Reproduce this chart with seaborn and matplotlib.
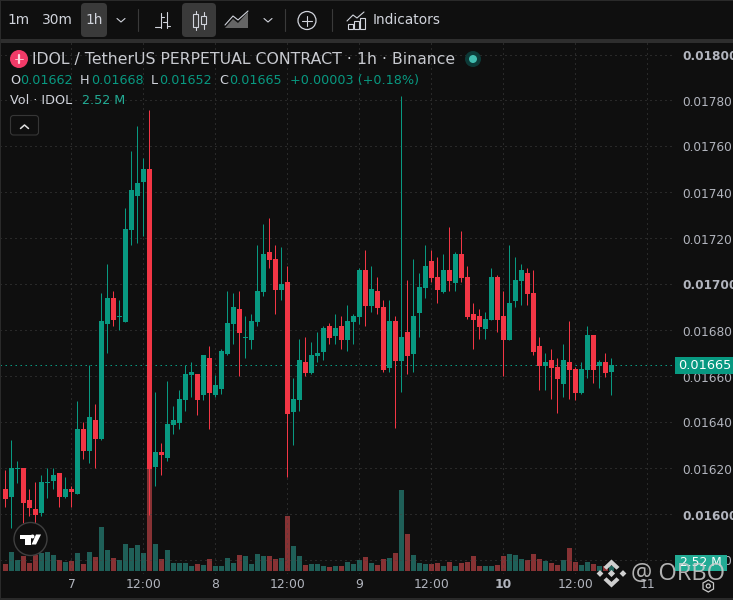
import numpy as np
import pandas as pd
import matplotlib
matplotlib.use("Agg")
import matplotlib.pyplot as plt
import seaborn as sns
from matplotlib.lines import Line2D
from matplotlib.patches import Rectangle, Circle, Polygon, FancyBboxPatch
from matplotlib.transforms import Affine2D

# prices are in millionths
highs = [16193,16324,16233,16202,16111,16141,16172,16202,16202,16180,
         16163,16124,16493,16402,16650,16480,16963,17089,16972,16933,
         17333,17580,17689,17550,17759,16533,16311,16580,16472,16541,
         16650,16663,16611,16693,16733,16607,16720,16972,16963,16972,
         16863,16872,17172,17263,17289,17172,17163,17080,16594,16763,
         16772,16750,16794,16820,16833,16872,16863,16911,16872,17072,
         17150,17080,17033,16933,16933,16863,17820,17020,17111,17050,
         17172,17150,17120,17133,17250,17141,17233,17080,16920,16893,
         16880,17072,17041,16972,17172,17120,17089,17072,17063,16772,
         16702,16720,16680,16741,16841,16641,16663,16820,16780,16672,
         16702,16680]
lows = [16033,15941,16137,15963,15993,15963,15993,16072,16111,16033,
        16072,16033,16089,16241,16224,16202,16324,16702,16820,16802,
        16837,17172,17180,17211,15998,16124,16172,16233,16350,16372,
        16450,16511,16433,16498,16372,16511,16524,16693,16741,16602,
        16680,16720,16820,16950,17072,16872,16933,16163,16302,16450,
        16602,16611,16663,16672,16741,16741,16720,16711,16741,16828,
        16820,16880,16872,16620,16620,16376,16533,16611,16620,16772,
        16941,17011,16920,16963,16972,16972,17011,16850,16720,16763,
        16763,16846,16794,16602,16759,16902,16911,16911,16693,16541,
        16541,16502,16441,16511,16502,16498,16524,16594,16572,16550,
        16598,16520]
opens = [16111,16076,16199,16202,16063,16024,16006,16137,16146,16180,
         16076,16111,16089,16372,16276,16411,16328,16828,16941,16859,
         16837,17237,17385,17446,17502,16206,16272,16246,16389,16398,
         16498,16607,16611,16520,16680,16520,16546,16698,16828,16893,
         16767,16759,16837,16967,17141,17111,16976,17011,16446,16498,
         16663,16615,16689,16706,16820,16776,16820,16759,16837,16859,
         17063,16906,16972,16902,16637,16841,16667,16794,16698,16876,
         16985,17102,17033,16967,17063,17006,17133,17033,16872,16863,
         16806,16846,17033,16863,16759,16928,17015,17050,16963,16733,
         16646,16672,16641,16567,16663,16633,16528,16628,16780,16646,
         16663,16620]
closes = [16067,16202,16203,16050,16028,15998,16141,16141,16172,16076,
          16111,16098,16372,16276,16424,16328,16841,16941,16846,16863,
          17241,17411,17441,17502,16198,16272,16259,16393,16411,16502,
          16611,16620,16498,16693,16528,16563,16711,16833,16902,16789,
          16772,16841,16972,17133,17106,16976,17002,16437,16502,16672,
          16615,16693,16702,16811,16767,16811,16759,16841,16863,17063,
          16906,16980,16898,16628,16841,16667,16772,16689,16863,16989,
          17080,17028,16976,17063,17015,17133,17028,16859,16846,16815,
          16850,17033,16846,16759,16920,17020,17063,16959,16706,16646,
          16663,16637,16589,16672,16628,16528,16633,16780,16628,16663,
          16615,16650]
# volume in millions
volumes = [3.5,9.5,5.5,7.5,4,8,9,9.5,8,5.5,
           4.5,5,9,3.5,9.5,7,22,10.5,6.5,5.5,
           13.5,11.5,13,9,51.5,13.5,6,10.5,4,4,
           4,2.5,3.5,3,6,2.5,2.5,6.5,4,8,
           7.5,3.5,8.5,7.5,7.5,6,6.5,27.5,12.5,7.5,
           3,3.5,3.5,2.5,2,2.5,2.5,4.5,3.5,5.5,
           7,4,3,6,6.5,9,40.5,18.5,8,4,
           3.5,3.5,4,2.5,4.5,2.5,4,4.5,7.5,2.5,
           2.5,2.5,3,7.5,8.5,8,6,5.5,8.5,6,
           5,4,3,5.5,11.5,4.5,3,4.5,3.5,2.5,
           2.5,2.52]
price_ticks = [0.0158,0.0160,0.0162,0.0164,0.0166,0.0168,0.0170,0.0172,0.0174,0.0176,0.0178,0.0180]
time_ticks = [11,23,35,47,59,71,83,95,107]
time_labels = ["7","12:00","8","12:00","9","12:00","10","12:00","11"]
last_price = 0.01665

BG = "#0f0f0f"
GREEN = "#089981"
RED = "#f23645"
VOL_GREEN = "#1f5f58"
VOL_RED = "#873234"
GRID = "#434343"
TEXT = "#d1d4dc"
AXIS_TEXT = "#b2b5be"

sns.set_style("dark", {"axes.facecolor": BG, "figure.facecolor": BG})
plt.rcParams["font.family"] = ["DejaVu Sans"]

df = pd.DataFrame({"open": opens, "high": highs, "low": lows, "close": closes, "vol": volumes})
df[["open", "high", "low", "close"]] /= 1e6
df["i"] = df.index
df["up"] = df["close"] >= df["open"]
df["dir"] = np.where(df["up"], "up", "down")
df["body"] = (df["close"] - df["open"]).abs()
df["bottom"] = df[["open", "close"]].min(axis=1)

fig = plt.figure(figsize=(7.33, 6), dpi=100)
ax = fig.add_axes([0, 26 / 600, 674 / 733, 532 / 600])
ax2 = ax.twinx()
ax2.set_position(ax.get_position())
tr = Affine2D().scale(1, -1).translate(0, 600)  # picture pixels, y down

# volume underneath
sns.barplot(data=df, x="i", y="vol", hue="dir", palette={"up": VOL_GREEN, "down": VOL_RED},
            dodge=False, native_scale=True, width=0.85, saturation=1, linewidth=0,
            errorbar=None, legend=False, ax=ax)

# candles
ax2.vlines(df["i"][df["up"]], df["low"][df["up"]], df["high"][df["up"]], color=GREEN, lw=0.72, zorder=1)
ax2.vlines(df["i"][~df["up"]], df["low"][~df["up"]], df["high"][~df["up"]], color=RED, lw=0.72, zorder=1)
for up, col in [(True, GREEN), (False, RED)]:
    part = df[df["up"] == up]
    sns.barplot(data=part, x="i", y="body", bottom=part["bottom"].values, color=col,
                native_scale=True, width=0.85, saturation=1, linewidth=0,
                errorbar=None, ax=ax2)

ax.set_xlim(-5.5 / 6, (674 - 5.5) / 6)
ax.set_ylim(-1.5, 264.5)
ax2.set_ylim(0.018 - (574 - 54.5) / 230000, 0.018 + 12.5 / 230000)

ax.set_xlabel("")
ax.set_ylabel("")
ax2.set_xlabel("")
ax2.set_ylabel("")
ax.set_yticks([])
ax.set_xticks(time_ticks)
ax.set_xticklabels(time_labels, fontsize=8.9, color=AXIS_TEXT)
ax.tick_params(axis="x", length=0, pad=3)
ax.get_xticklabels()[6].set_fontweight("bold")
ax2.set_yticks(price_ticks)
ax2.set_yticklabels(["%.5f" % p for p in price_ticks], fontsize=8.7, color=AXIS_TEXT)
ax2.tick_params(axis="y", length=0, pad=5.8)
for lab, p in zip(ax2.get_yticklabels(), price_ticks):
    if p in (0.0160, 0.0170, 0.0180):
        lab.set_fontweight("bold")
for a in (ax, ax2):
    for s in a.spines.values():
        s.set_visible(False)

# grid
for p in price_ticks:
    ax2.axhline(p, color=GRID, lw=0.72, ls=(0, (1, 4)), zorder=0.5)
for t in time_ticks:
    ax2.axvline(t, color=GRID, lw=0.72, ls=(0, (1, 4)), zorder=0.5)
ax2.axhline(last_price, color=GREEN, lw=0.72, ls=(0, (1.5, 3.5)), zorder=0.6)


def box(x0, y0, x1, y1, color, z=3):
    fig.add_artist(Rectangle((x0, y0), x1 - x0, y1 - y0, transform=tr, fc=color, ec="none", zorder=z))


def rbox(x0, y0, x1, y1, fc, ec="none", r=4, z=3):
    fig.add_artist(FancyBboxPatch((x0, y0), x1 - x0, y1 - y0, boxstyle="round,pad=0,rounding_size=%g" % r,
                                  transform=tr, fc=fc, ec=ec, lw=0.8, zorder=z))


def line(xs, ys, color=TEXT, lw=0.8, z=4):
    fig.add_artist(Line2D(xs, ys, transform=tr, color=color, lw=lw, zorder=z))


def label(x, y, s, color=TEXT, size=9.2, ha="left", z=5, **kw):
    fig.text(x, y, s, transform=tr, color=color, fontsize=size, ha=ha, va="center", zorder=z, **kw)


# toolbar
box(0, 0, 733, 1, "#2a2a2a")
box(0, 39, 733, 43, "#2e2e2e")
box(0, 0, 1, 600, "#2a2a2a")
box(0, 598, 733, 600, "#2a2a2a")
rbox(81, 3, 107, 37, "#3a3a3a")
rbox(182, 3, 216, 37, "#3a3a3a")
label(7, 20, "1m", size=9.9)
label(42, 20, "30m", size=9.9)
label(85.5, 20, "1h", size=9.9)
label(373, 20, "Indicators", size=9.9)
line([117, 121, 125], [18.5, 22, 18.5])
line([264, 268, 272], [18.5, 22, 18.5])
for sx in (137.5, 284.5, 331.5):
    line([sx, sx], [9, 31], color="#3a3a3a")
line([160.5, 160.5], [13, 28]); line([155, 160.5], [27, 27]); line([160.5, 164], [17, 17])
line([166.5, 166.5], [12, 28]); line([163, 166.5], [22, 22]); line([166.5, 170], [26, 26])
line([195.5, 195.5], [11, 30]); line([203.5, 203.5], [12, 29])
fig.add_artist(Rectangle((193, 14), 5, 13, transform=tr, fc="#3a3a3a", ec=TEXT, lw=0.8, zorder=5))
fig.add_artist(Rectangle((201, 16), 5, 8, transform=tr, fc="#3a3a3a", ec=TEXT, lw=0.8, zorder=5))
fig.add_artist(Polygon([(225, 28), (233, 19), (238, 23), (248, 12), (248, 28)], transform=tr,
                       fc="#8a8a8a", ec="none", alpha=0.7, zorder=4))
line([225, 233, 238, 248], [25, 16, 20, 11])
fig.add_artist(Circle((307, 20.5), 9, transform=tr, fc="none", ec=TEXT, lw=0.9, zorder=4))
line([302, 312], [20.5, 20.5]); line([307, 307], [15.5, 25.5])
for bx, by in [(347.5, 24), (353.5, 21), (359.5, 18)]:
    fig.add_artist(Rectangle((bx, by), 5, 28.5 - by, transform=tr, fc="none", ec=TEXT, lw=0.8, zorder=4))
line([347, 353, 357, 364], [21, 15, 18, 12])

# header
fig.add_artist(Circle((19, 59), 9, transform=tr, fc="#f23a68", ec="none", zorder=4))
line([19, 19], [55, 63], color="#ffd5e0", lw=1.6)
line([15, 23], [59, 59], color="#ffd5e0", lw=0.6)
label(32, 59.5, "IDOL / TetherUS PERPETUAL CONTRACT · 1h · Binance", size=11.3, color="#c8cad0")
fig.add_artist(Circle((473, 59), 8, transform=tr, fc="#0d3a38", ec="none", zorder=4))
fig.add_artist(Circle((473, 59), 4, transform=tr, fc="#42bdb0", ec="none", zorder=5))
for lx, name, vx, val in [(10, "O", 20.5, "0.01662"), (80, "H", 91, "0.01668"),
                          (151, "L", 159, "0.01652"), (219, "C", 229, "0.01665")]:
    label(lx, 80.5, name)
    label(vx, 80.5, val, color=GREEN)
label(290, 80.5, "+0.00003 (+0.18%)", color=GREEN)
label(10, 100.5, "Vol · IDOL")
label(82, 100.5, "2.52 M", color="#22ab94")
rbox(10.5, 115.5, 38.5, 135, BG, ec="#363636", r=3)
line([20.5, 24.5, 28.5], [128.5, 125, 128.5], color="#e0e0e0", lw=1.1)

# value tags on the right
box(675, 357, 733, 374, GREEN)
label(704.5, 365.5, "0.01665", color="white", size=9.3, ha="center")
box(675, 555, 727, 571, "#22ab94")
label(701, 563, "2.52 M", color="white", size=8.8, ha="center")

# TradingView badge
fig.add_artist(Circle((30.5, 539), 16.5, transform=tr, fc=BG, ec="#3f3f3f", lw=1.0, zorder=6))
fig.add_artist(Polygon([(20, 534.5), (31, 534.5), (31, 544.5), (25, 544.5), (25, 538.5), (20, 538.5)],
                       transform=tr, fc="white", ec="none", zorder=7))
fig.add_artist(Circle((32.5, 536.5), 2, transform=tr, fc="white", ec="none", zorder=7))
fig.add_artist(Polygon([(36, 534.5), (41, 534.5), (36, 544.5), (31.5, 544.5)],
                       transform=tr, fc="white", ec="none", zorder=7))

# watermark
WM = "#cfcfcf"
cx, cy = 611.5, 573.5
for ox, oy, r in [(-11.5, 0, 3.4), (11.5, 0, 3.4), (0, 0, 3.6)]:
    fig.add_artist(Polygon([(cx + ox - r, cy + oy), (cx + ox, cy + oy - r), (cx + ox + r, cy + oy), (cx + ox, cy + oy + r)],
                           transform=tr, fc=WM, ec="none", zorder=8))
fig.add_artist(Polygon([(cx, cy - 14), (cx + 8, cy - 6.5), (cx + 5, cy - 3.8), (cx, cy - 8.4), (cx - 5, cy - 3.8), (cx - 8, cy - 6.5)],
                       transform=tr, fc=WM, ec="none", zorder=8))
fig.add_artist(Polygon([(cx, cy + 14), (cx + 8, cy + 6.5), (cx + 5, cy + 3.8), (cx, cy + 8.4), (cx - 5, cy + 3.8), (cx - 8, cy + 6.5)],
                       transform=tr, fc=WM, ec="none", zorder=8))
fig.text(631, 574, "@ ORBO", transform=tr, color=WM, fontsize=17, family="Open Sans", va="center", zorder=8, alpha=0.85)
fig.add_artist(Polygon([(708.3, 580), (713.5, 583), (713.5, 589), (708.3, 592), (703, 589), (703, 583)],
                       transform=tr, fc="none", ec="#c8c8c8", lw=0.9, zorder=8))
fig.add_artist(Circle((708.3, 586), 2, transform=tr, fc="none", ec="#c8c8c8", lw=0.9, zorder=8))

fig.savefig("out.png", dpi=100, facecolor=BG)
